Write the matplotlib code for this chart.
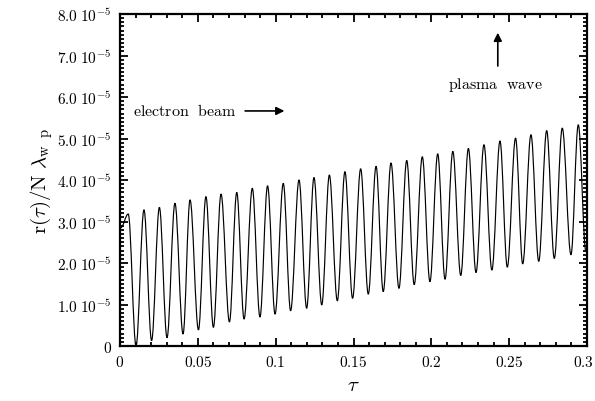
import matplotlib
matplotlib.use("Agg")
import matplotlib.pyplot as plt
import matplotlib.transforms as mtransforms
from matplotlib.ticker import MultipleLocator, FixedLocator
from matplotlib.path import Path
from matplotlib.patches import PathPatch

plt.rcParams['mathtext.fontset'] = 'cm'
plt.rcParams['font.family'] = ['DejaVu Serif']

# extrema (tau, r/N lambda in units of 1e-5)
tau = [0.0005, 0.0053, 0.0103, 0.0154, 0.0203, 0.0253, 0.0302, 0.0353, 0.0405, 0.0450,
       0.0504, 0.0552, 0.0600, 0.0649, 0.0703, 0.0750, 0.0797, 0.0850, 0.0899, 0.0948,
       0.0996, 0.1049, 0.1096, 0.1150, 0.1199, 0.1246, 0.1296, 0.1345, 0.1396, 0.1445,
       0.1494, 0.1546, 0.1595, 0.1645, 0.1691, 0.1741, 0.1792, 0.1842, 0.1890, 0.1942,
       0.1991, 0.2041, 0.2088, 0.2138, 0.2189, 0.2238, 0.2287, 0.2338, 0.2389, 0.2441,
       0.2488, 0.2541, 0.2587, 0.2640, 0.2690, 0.2741, 0.2790, 0.2841, 0.2897, 0.2944,
       0.2993]
r_val = [2.85, 3.18, 0.00, 3.28, 0.13, 3.34, 0.20, 3.44, 0.29, 3.52,
         0.39, 3.60, 0.45, 3.66, 0.58, 3.70, 0.65, 3.80, 0.70, 3.86,
         0.77, 3.92, 0.85, 4.00, 0.91, 4.06, 0.99, 4.12, 1.09, 4.20,
         1.15, 4.27, 1.25, 4.33, 1.31, 4.41, 1.39, 4.47, 1.48, 4.56,
         1.55, 4.63, 1.61, 4.69, 1.70, 4.76, 1.77, 4.85, 1.83, 4.94,
         1.90, 5.01, 1.98, 5.09, 2.04, 5.19, 2.11, 5.25, 2.20, 5.33,
         2.28]
scale = 1e-5

x_ticks = [0, 0.05, 0.1, 0.15, 0.2, 0.25, 0.3]
x_tick_labels = ['0', '0.05', '0.1', '0.15', '0.2', '0.25', '0.3']
y_ticks = [0, 1e-5, 2e-5, 3e-5, 4e-5, 5e-5, 6e-5, 7e-5, 8e-5]
y_tick_labels = ['0', '1.0', '2.0', '3.0', '4.0', '5.0', '6.0', '7.0', '8.0']

fig = plt.figure(figsize=(5.95, 4.02), dpi=100)
ax = fig.add_axes([120/595, 1-347/402, 467/595, 332/402])

# smooth curve through the read extrema: cubic segments with flat tangents at each extremum
verts = [(tau[0], r_val[0]*scale)]
codes = [Path.MOVETO]
h = 0.36
for i in range(1, len(tau)):
    t0, t1 = tau[i-1], tau[i]
    v0, v1 = r_val[i-1]*scale, r_val[i]*scale
    d = t1 - t0
    verts += [(t0 + h*d, v0), (t1 - h*d, v1), (t1, v1)]
    codes += [Path.CURVE4]*3
ax.add_patch(PathPatch(Path(verts, codes), facecolor='none', edgecolor='black', lw=0.85))

ax.set_xlim(0, 0.3)
ax.set_ylim(0, 8e-5)
ax.xaxis.set_major_locator(FixedLocator(x_ticks))
ax.set_xticklabels([r'$%s$' % s for s in x_tick_labels])
ax.xaxis.set_minor_locator(MultipleLocator(0.01))
ax.yaxis.set_major_locator(FixedLocator(y_ticks))
ax.set_yticklabels([r'$0$'] + [r'$%s\;10^{-5}$' % s for s in y_tick_labels[1:]])
ax.yaxis.set_minor_locator(MultipleLocator(1e-6))

ax.tick_params(which='both', direction='in', top=True, right=True, width=1.3, labelsize=11, pad=6)
ax.tick_params(which='major', length=6)
ax.tick_params(which='minor', length=3)
for s in ax.spines.values():
    s.set_linewidth(1.6)

# keep the last x tick label inside the figure
last = ax.get_xticklabels()[-1]
last.set_transform(last.get_transform() + mtransforms.ScaledTranslation(-4/100, 0, fig.dpi_scale_trans))

ax.set_xlabel(r'$\tau$', fontsize=15, labelpad=4)
ax.set_ylabel(r'$\mathrm{r}(\tau)/\mathrm{N}\ \lambda_{\mathrm{w}\ \ \mathrm{p}}$', fontsize=15, labelpad=2)

ax.text(0.028, 0.708, r'$\mathrm{electron\ \ beam}$', transform=ax.transAxes,
        fontsize=11.5, ha='left', va='center')
ax.annotate('', xy=(0.358, 0.708), xytext=(0.262, 0.708), xycoords='axes fraction',
            arrowprops=dict(arrowstyle='-|>', color='black', lw=1.2, mutation_scale=12))
ax.text(0.803, 0.79, r'$\mathrm{plasma\ \ wave}$', transform=ax.transAxes,
        fontsize=11.5, ha='center', va='center')
ax.annotate('', xy=(0.809, 0.952), xytext=(0.809, 0.835), xycoords='axes fraction',
            arrowprops=dict(arrowstyle='-|>', color='black', lw=1.2, mutation_scale=12))

fig.savefig('out.png', dpi=100)
